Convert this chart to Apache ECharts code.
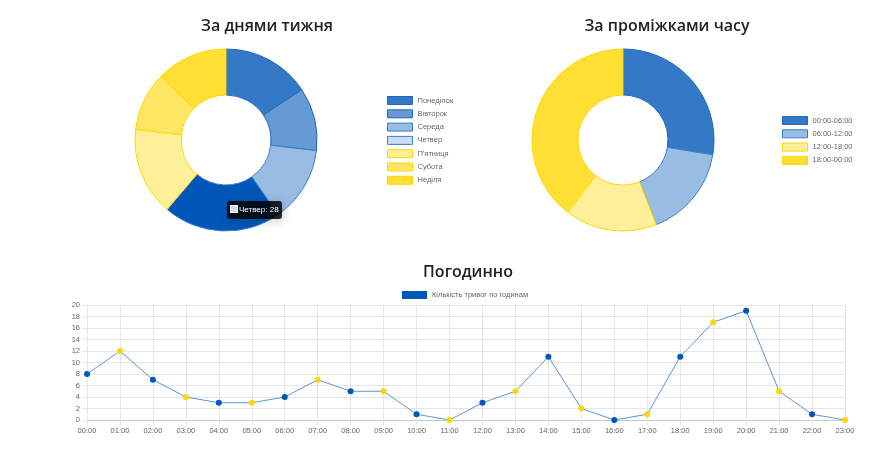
<!DOCTYPE html>
<html>
<head>
<meta charset="utf-8">
<script src="https://cdn.jsdelivr.net/npm/echarts@6/dist/echarts.min.js"></script>
<style>
    html, body { margin: 0; padding: 0; background: #fff; }
    #main { width: 890px; height: 451px; }
</style>
</head>
<body>
<div id="main"></div>
<script>
// Data
var dayNames = ['Понеділок', 'Вівторок', 'Середа', 'Четвер', 'П\'ятниця', 'Субота', 'Неділя'];
var dayCounts = [21, 15, 18, 28, 21, 14, 17];
var dayColors = ['#3379C5', '#669AD4', '#99BCE2', '#CCDDF1', '#FFEF99', '#FFE766', '#FFDF33'];
var dayBorders = ['#1f68bd', '#1f68bd', '#3a7fcc', '#3a7fcc', '#FFD700', '#FFD700', '#FFD700'];

var periodNames = ['00:00-06:00', '06:00-12:00', '12:00-18:00', '18:00-00:00'];
var periodCounts = [37, 22, 22, 53];
var periodColors = ['#3379C5', '#99BCE2', '#FFEF99', '#FFDF33'];
var periodBorders = ['#1f68bd', '#3a7fcc', '#FFD700', '#FFD700'];

var hours = ['00:00', '01:00', '02:00', '03:00', '04:00', '05:00', '06:00', '07:00',
    '08:00', '09:00', '10:00', '11:00', '12:00', '13:00', '14:00', '15:00',
    '16:00', '17:00', '18:00', '19:00', '20:00', '21:00', '22:00', '23:00'];
var hourCounts = [8, 12, 7, 4, 3, 3, 4, 7, 5, 5, 1, 0, 3, 5, 11, 2, 0, 1, 11, 17, 19, 5, 1, 0];

// hovered slice in the picture
var activeDay = 3;

var chart = echarts.init(document.getElementById('main'));

var titleStyle = {
    fontFamily: 'Open Sans',
    fontWeight: 600,
    fontSize: 16,
    color: '#222'
};
var legendText = {
    fontFamily: 'Liberation Sans',
    fontSize: 7.5,
    color: '#666'
};
var tickText = {
    color: '#666',
    fontSize: 7.5,
    fontFamily: 'Liberation Sans'
};

function pieData(names, counts, colors, borders, active) {
    var res = [];
    for (var i = 0; i < names.length; i++) {
        res.push({
            name: names[i],
            value: counts[i],
            itemStyle: {
                color: i === active ? '#0057B7' : colors[i],
                borderColor: borders[i],
                borderWidth: 1
            }
        });
    }
    return res;
}

function legendData(names, colors, borders) {
    var res = [];
    for (var i = 0; i < names.length; i++) {
        res.push({
            name: names[i],
            itemStyle: { color: colors[i], borderColor: borders[i], borderWidth: 1 }
        });
    }
    return res;
}

var hourPoints = [];
for (var i = 0; i < hourCounts.length; i++) {
    hourPoints.push({
        value: hourCounts[i],
        itemStyle: { color: i % 2 === 0 ? '#0057B7' : '#FFD700' }
    });
}

var option = {
    animation: false,
    title: [
        { text: 'За днями тижня', left: 262, top: 13, textAlign: 'center', textStyle: titleStyle },
        { text: 'За проміжками часу', left: 662, top: 13, textAlign: 'center', textStyle: titleStyle },
        { text: 'Погодинно', left: 463, top: 259, textAlign: 'center', textStyle: titleStyle }
    ],
    tooltip: {
        trigger: 'item',
        alwaysShowContent: true,
        transitionDuration: 0,
        backgroundColor: 'rgba(0,0,0,0.85)',
        borderWidth: 0,
        borderRadius: 3,
        padding: [3, 3],
        textStyle: { color: '#fff', fontSize: 8, fontFamily: 'Liberation Sans' },
        position: [227, 201],
        formatter: function (p) {
            return '<span style="display:inline-block;width:6px;height:6px;margin-right:1px;' +
                'background:' + dayColors[p.dataIndex] + ';border:1px solid #fff;vertical-align:-1px"></span>' +
                p.name + ': ' + p.value;
        }
    },
    legend: [
        {
            orient: 'vertical',
            left: 387,
            top: 96,
            padding: 0,
            itemWidth: 25,
            itemHeight: 8,
            itemGap: 4.3,
            icon: 'rect',
            textStyle: legendText,
            data: legendData(dayNames, dayColors, dayBorders),
            selectedMode: false
        },
        {
            orient: 'vertical',
            left: 782,
            top: 116,
            padding: 0,
            itemWidth: 25,
            itemHeight: 8,
            itemGap: 4.3,
            icon: 'rect',
            textStyle: legendText,
            data: legendData(periodNames, periodColors, periodBorders),
            selectedMode: false
        },
        {
            left: 402,
            top: 291,
            padding: 0,
            itemWidth: 25,
            itemHeight: 8,
            icon: 'rect',
            textStyle: legendText,
            data: [{ name: 'Кількість тривог по годинам', itemStyle: { color: '#0057B7' } }],
            selectedMode: false
        }
    ],
    grid: {
        left: 87,
        right: 45,
        top: 305,
        bottom: 31
    },
    xAxis: {
        type: 'category',
        data: hours,
        boundaryGap: false,
        axisLine: { lineStyle: { color: '#c8c8c8' } },
        axisTick: { show: true, length: 5, alignWithLabel: true, lineStyle: { color: '#e6e6e6' } },
        axisLabel: Object.assign({ margin: 7, interval: 0 }, tickText),
        splitLine: { show: true, lineStyle: { color: '#e6e6e6' } }
    },
    yAxis: {
        type: 'value',
        min: 0,
        max: 20,
        interval: 2,
        axisLine: { show: true, lineStyle: { color: '#e6e6e6' } },
        axisTick: { show: true, length: 5, lineStyle: { color: '#e6e6e6' } },
        axisLabel: Object.assign({ margin: 7 }, tickText),
        splitLine: { show: true, lineStyle: { color: '#e6e6e6' } }
    },
    series: [
        {
            name: 'days',
            type: 'pie',
            center: [226, 140],
            radius: [45, 91],
            startAngle: 90,
            label: { show: false },
            labelLine: { show: false },
            emphasis: { disabled: true },
            data: pieData(dayNames, dayCounts, dayColors, dayBorders, activeDay)
        },
        {
            name: 'periods',
            type: 'pie',
            center: [623, 140],
            radius: [45, 91],
            startAngle: 90,
            label: { show: false },
            labelLine: { show: false },
            emphasis: { disabled: true },
            tooltip: { show: false },
            data: pieData(periodNames, periodCounts, periodColors, periodBorders, -1)
        },
        {
            name: 'Кількість тривог по годинам',
            type: 'line',
            data: hourPoints,
            symbol: 'circle',
            symbolSize: 6,
            lineStyle: { color: '#5b95dc', width: 1 },
            itemStyle: { color: '#0057B7' },
            tooltip: { show: false },
            emphasis: { disabled: true }
        }
    ]
};

chart.setOption(option);
chart.dispatchAction({ type: 'showTip', seriesIndex: 0, dataIndex: activeDay });
</script>
</body>
</html>
